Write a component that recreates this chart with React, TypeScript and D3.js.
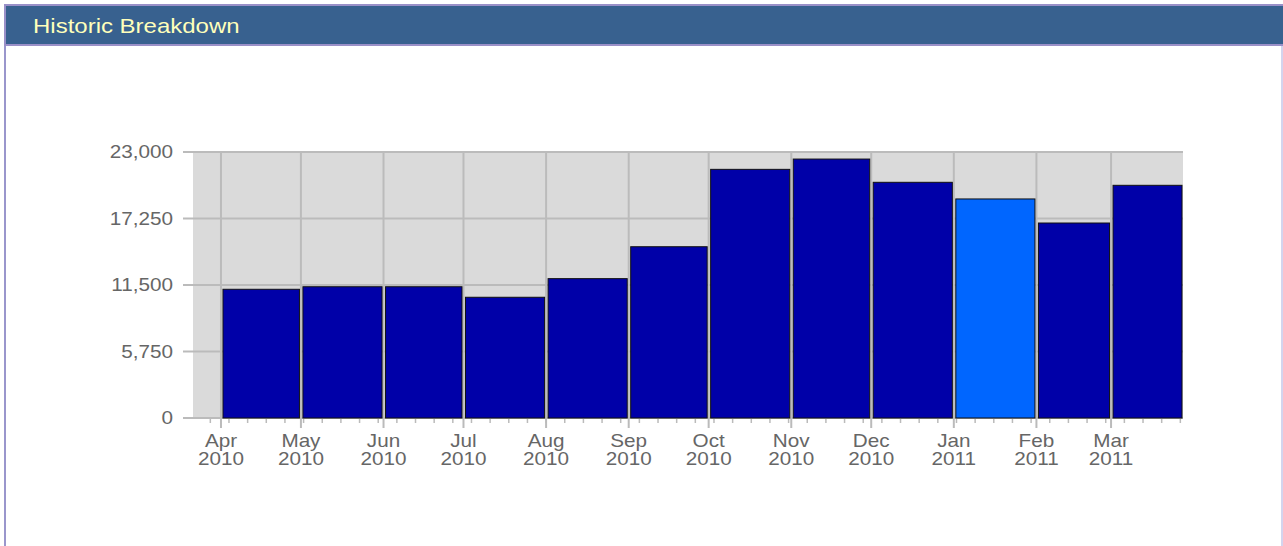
import React from 'react';
import * as d3 from 'd3';

// monthly totals, Apr 2010 .. Mar 2011
const months = ['2010-04', '2010-05', '2010-06', '2010-07', '2010-08', '2010-09', '2010-10', '2010-11', '2010-12', '2011-01', '2011-02', '2011-03'];
const values = [11130, 11350, 11350, 10440, 12050, 14810, 21500, 22390, 20380, 18940, 16860, 20120];
const highlighted = ['2011-01'];
const yTicks = [0, 5750, 11500, 17250, 23000];

const W = 1283, H = 546;
// the source picture is a bit wider than tall, text included
const SX = 1.15;

const parseMonth = (s: string) => {
  const [y, m] = s.split('-').map(Number);
  return new Date(y, m - 1, 1);
};

const App = () => {
  const x = d3.scaleTime()
    .domain([new Date(2010, 2, 21, 12), new Date(2011, 2, 28)])
    .range([193, 1183]);
  const y = d3.scaleLinear().domain([0, 23000]).range([418, 152]);

  const [x0, x1] = x.range();
  const majors = d3.timeMonth.range(new Date(2010, 3, 1), x.domain()[1]);
  const minors = d3.timeWeek.range(x.domain()[0], x.domain()[1]);
  const fmt = d3.format(',');

  const bars = months.map((m, i) => {
    const start = parseMonth(m);
    const end = d3.timeMonth.offset(start, 1);
    return { m, v: values[i], left: x(start) + 2, right: Math.min(x(end) - 1.5, x1 - 1) };
  });

  const txt = { fontFamily: 'Arial, "Liberation Sans", sans-serif', fontSize: 18, fill: '#666' };

  return (
    <svg width={W} height={H} style={{ position: 'absolute', left: 0, top: 0 }}>
      {/* panel frame */}
      <rect x={5} y={5} width={W - 4} height={H} fill="#fff" stroke="none" />
      <line x1={5} x2={5} y1={5} y2={H} stroke="#9a96cc" strokeWidth={2} />
      <line x1={W - 1} x2={W - 1} y1={44} y2={H} stroke="#d4d4ee" strokeWidth={2} />
      <rect x={5} y={5} width={W} height={40} fill="#38618f" stroke="#9a90c8" strokeWidth={2} />
      <text transform="translate(33,33) scale(1.2,1)" fontFamily='Arial, "Liberation Sans", sans-serif' fontSize={20} fill="#ffffbb">Historic Breakdown</text>

      {/* plot background */}
      <rect x={x0} y={y(23000)} width={x1 - x0} height={y(0) - y(23000)} fill="#dadada" />

      {/* grid */}
      {yTicks.map(t => (
        <line key={'h' + t} x1={183} x2={x1} y1={y(t)} y2={y(t)} stroke="#bbb" strokeWidth={2} />
      ))}
      {majors.map(d => (
        <line key={'v' + d.getTime()} x1={x(d)} x2={x(d)} y1={y(23000)} y2={428} stroke="#bbb" strokeWidth={2} />
      ))}
      {minors.map(d => (
        <line key={'m' + d.getTime()} x1={x(d)} x2={x(d)} y1={418} y2={423} stroke="#bbb" strokeWidth={1.5} />
      ))}

      {/* bars */}
      {bars.map(b => (
        <rect key={b.m} x={b.left} y={y(b.v)} width={b.right - b.left} height={y(0) - y(b.v)}
          fill={highlighted.includes(b.m) ? '#0066ff' : '#0000a8'} stroke="#111" strokeWidth={1} />
      ))}

      {/* y labels */}
      {yTicks.map(t => (
        <text key={'yl' + t} transform={`translate(173,${y(t)}) scale(${SX},1)`} dy="0.35em" textAnchor="end" {...txt}>{fmt(t)}</text>
      ))}

      {/* x labels */}
      {majors.map(d => (
        <g key={'xl' + d.getTime()} transform={`translate(${x(d)},0) scale(${SX},1)`}>
          <text x={0} y={447} textAnchor="middle" {...txt}>{d3.timeFormat('%b')(d)}</text>
          <text x={0} y={465} textAnchor="middle" {...txt}>{d3.timeFormat('%Y')(d)}</text>
        </g>
      ))}
    </svg>
  );
};

export default App;
